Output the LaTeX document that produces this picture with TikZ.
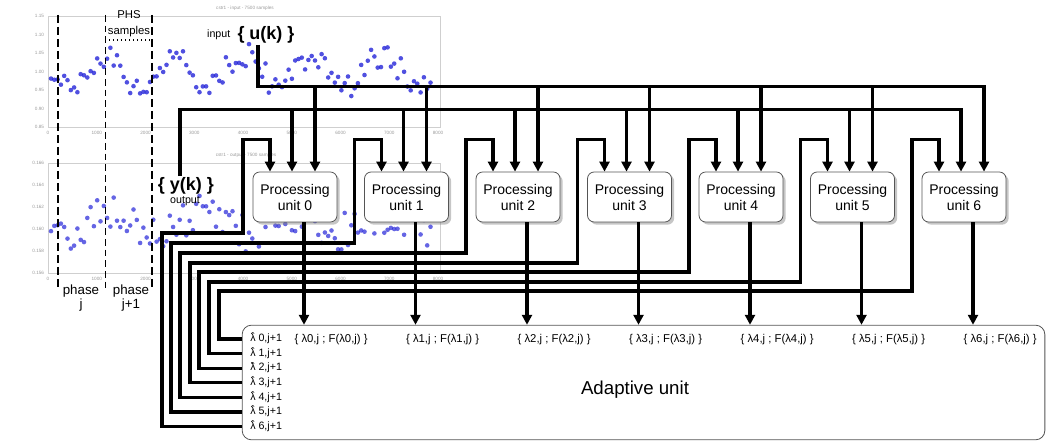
\documentclass[tikz,border=0pt]{standalone}
\usepackage{fontspec}
\setmainfont{Liberation Sans}
\usepackage{tikz}
\usetikzlibrary{arrows.meta,calc,shadows}
\definecolor{ptblue}{HTML}{2424D8}
\definecolor{framegray}{HTML}{CFCFCF}
\definecolor{edgegray}{HTML}{555555}
\definecolor{tickgray}{HTML}{9A9A9A}
\newcommand{\lamhat}{\ooalign{λ\cr\hidewidth\raisebox{0.15ex}{\char"02C6}\hidewidth\cr}}

\begin{document}
\begin{tikzpicture}[x=0.75pt,y=-0.75pt,
  wire/.style={line width=2.4pt},
  >={Triangle[length=7.5pt,width=7.5pt]},
  unitbox/.style={draw=edgegray,line width=0.6pt,fill=white,rounded corners=5pt,
    align=center,minimum width=63pt,minimum height=37.5pt,inner sep=1pt,
    font=\fontsize{10.5}{12}\selectfont,
    drop shadow={shadow xshift=2pt,shadow yshift=-2pt,opacity=0.45}},
  adaptbox/.style={draw=edgegray,line width=0.6pt,fill=white,rounded corners=7pt,
    minimum width=602pt,minimum height=86pt,inner sep=0pt},
  rowlbl/.style={font=\fontsize{8}{10}\selectfont,inner sep=0pt,anchor=west},
  reslbl/.style={font=\fontsize{8.5}{10}\selectfont,inner sep=1pt,anchor=west},
  ticklbl/.style={font=\fontsize{3.5}{4}\selectfont,text=tickgray,inner sep=0.5pt},
  bigsig/.style={font=\bfseries\fontsize{13.5}{14}\selectfont,inner sep=1pt}]
  \useasboundingbox (0,0) rectangle (1048,441);

  % plots in the background
  \draw[framegray,line width=0.6pt] (48,16) rectangle (440,127);
  \draw[framegray,line width=0.6pt] (48,163) rectangle (440,273);
  \node[ticklbl] (ttl1) at (245,8) {cstr1 - input - 7500 samples};
  \node[ticklbl] (ttl2) at (246,155) {cstr1 - output - 7500 samples};
  \foreach \k in {0,...,8} {
    \pgfmathtruncatemacro{\v}{\k*1000}
    \node[ticklbl] at ({48+48.75*\k},133) {\v};
    \node[ticklbl] at ({48+48.75*\k},279) {\v};
  }
  \foreach \v [count=\k from 0] in {1.15,1.10,1.05,1.00,0.95,0.90,0.85}
    \node[ticklbl,anchor=east] at (45,{16+18.5*\k}) {\v};
  \foreach \v [count=\k from 0] in {0.166,0.164,0.162,0.160,0.158,0.156}
    \node[ticklbl,anchor=east] at (45,{163+22*\k}) {\v};
  \pgfmathsetseed{11}
  \foreach \k in {0,...,115} {
    \pgfmathsetmacro{\px}{51+\k*3.3}
    \pgfmathsetmacro{\py}{70+15*sin(\k*17)+13*rand}
    \fill[ptblue,opacity=0.8] (\px,\py) circle[radius=2.3];
    \pgfmathsetmacro{\qy}{224+10*sin(\k*13+40)+20*rand}
    \fill[ptblue,opacity=0.7] (\px,\qy) circle[radius=2.3];
  }

  % phases
  \draw[line width=1.3pt,dash pattern=on 6pt off 3pt] (58,15) -- (58,288);
  \draw[line width=0.6pt,dash pattern=on 5pt off 3pt] (105,15) -- (105,288);
  \draw[line width=1.3pt,dash pattern=on 6pt off 3pt] (152,15) -- (152,288);
  \draw[line width=1pt,dotted] (105,40) -- (152,40);
  \node[font=\fontsize{8.5}{12}\selectfont,align=center,inner sep=0pt] (phs) at (129,24) {PHS\\samples};
  \node[font=\fontsize{10}{11}\selectfont,align=center,inner sep=0pt] (ph1) at (81,298) {phase\\j};
  \node[font=\fontsize{10}{11}\selectfont,align=center,inner sep=0pt] (ph2) at (131,298) {phase\\j+1};

  % signals
  \node[bigsig] (uk) at (266,35) {\{ u(k) \}};
  \node[font=\fontsize{8}{9}\selectfont,anchor=east,inner sep=1pt] (inlbl) at ($(uk.west)+(-4,0)$) {input};
  \node[bigsig] (yk) at (186,186) {\{ y(k) \}};
  \node[font=\fontsize{8}{9}\selectfont,inner sep=0pt] (outlbl) at (185,201) {output};

  % processing units
  \foreach \i in {0,...,6} {
    \node[unitbox] (pu\i) at ({295+111.5*\i},197) {Processing\\unit \i};
    \coordinate (a\i) at ($(pu\i.north)+(-25,0)$);
    \coordinate (b\i) at ($(pu\i.north)+(-3,0)$);
    \coordinate (c\i) at ($(pu\i.north)+(20,0)$);
    \coordinate (o\i) at ($(pu\i.south)+(9,0)$);
  }

  % adaptive unit
  \node[adaptbox] (adapt) at (643.5,382.5) {};
  \node[font=\fontsize{14}{16}\selectfont] (adlbl) at (635,390) {Adaptive unit};
  \foreach \r in {0,...,6}
    \node[rowlbl] (lam\r) at (250,{339+14.6*\r}) {\lamhat\ \r,j+1};
  \foreach \i in {0,...,6} {
    \draw[wire,->] (o\i) -- (o\i |- adapt.north);
    \node[reslbl] (res\i) at ($(o\i |- adapt.north)+(-11,15)$) {\{ λ\i,j ; F(λ\i,j) \}};
  }

  % input and output buses
  \draw[wire,->] ($(uk.south)+(-8,0)$) |- ($(c6)+(0,-85)$) -- (c6);
  \foreach \i in {0,...,5}
    \draw[wire,->] ($(c\i)+(0,-85)$) -- (c\i);
  \draw[wire,->] ($(yk.north)+(-6,0)$) |- ($(b6)+(0,-62)$) -- (b6);
  \foreach \i in {0,...,5}
    \draw[wire,->] ($(b\i)+(0,-62)$) -- (b\i);

  % feedback from the adaptive unit
  \foreach \i/\xl/\yh in {0/162/233,1/171/243,2/180/253,3/190/263,4/199/272,5/209/282,6/219/291} {
    \pgfmathtruncatemacro{\r}{6-\i}
    \draw[wire,->] (adapt.west |- lam\r.west) -| (\xl,\yh) -| ($(a\i)+(-27,-32)$) -| (a\i);
  }
\end{tikzpicture}
\end{document}
